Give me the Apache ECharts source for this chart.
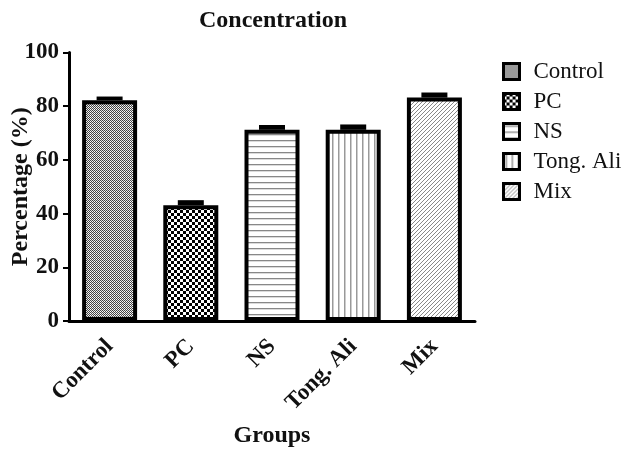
<!DOCTYPE html>
<html>
<head>
<meta charset="utf-8">
<script src="https://cdn.jsdelivr.net/npm/echarts@6/dist/echarts.min.js"></script>
<style>html,body{margin:0;padding:0;background:#fff}#c{width:628px;height:450px}</style>
</head>
<body>
<div id="c"></div>
<script>
var categories = ['Control', 'PC', 'NS', 'Tong. Ali', 'Mix'];
var values = [82.2, 43.1, 71.2, 71.2, 83.2];
var errors = [1.4, 1.9, 1.8, 2.0, 1.9];
var yTicks = [0, 20, 40, 60, 80, 100];

function mk(w, h, draw) {
  var c = document.createElement('canvas');
  c.width = w; c.height = h;
  var g = c.getContext('2d');
  g.fillStyle = '#fff'; g.fillRect(0, 0, w, h);
  draw(g);
  return { image: c, repeat: 'repeat' };
}
var patterns = [
  mk(2, 2, function (g) { g.fillStyle = '#444'; g.fillRect(0, 0, 1, 1); g.fillRect(1, 1, 1, 1); g.fillStyle = '#ddd'; g.fillRect(1,0,1,1); }),
  mk(6, 6, function (g) { g.fillStyle = '#000'; g.fillRect(0, 0, 3, 3); g.fillRect(3, 3, 3, 3); }),
  mk(6, 6, function (g) { g.fillStyle = '#888'; g.fillRect(0, 2, 6, 1.3); }),
  mk(6, 6, function (g) { g.fillStyle = '#999'; g.fillRect(2, 0, 1.5, 6); }),
  mk(4, 4, function (g) { g.strokeStyle = '#888'; g.lineWidth = 1; g.beginPath(); g.moveTo(0, 4); g.lineTo(4, 0); g.moveTo(-1, 1); g.lineTo(1, -1); g.moveTo(3, 5); g.lineTo(5, 3); g.stroke(); })
];

var serif = 'Liberation Serif';
var series = categories.map(function (name, i) {
  return {
    name: name,
    type: 'bar',
    stack: 'all',
    barWidth: 55,
    data: categories.map(function (c, j) { return j === i ? values[i] : '-'; }),
    itemStyle: { color: patterns[i], borderColor: '#000', borderWidth: 4 },
    z: 2
  };
});
series.push({
  type: 'custom',
  name: 'err',
  data: values.map(function (v, i) { return [i, v, errors[i]]; }),
  renderItem: function (params, api) {
    var top = api.coord([api.value(0), api.value(1) + api.value(2)]);
    var base = api.coord([api.value(0), api.value(1)]);
    return { type: 'rect', shape: { x: top[0] - 13, y: top[1], width: 26, height: base[1] - top[1] }, style: { fill: '#000' } };
  },
  z: 3
});

var chart = echarts.init(document.getElementById('c'), null, { renderer: 'canvas' });
chart.setOption({
  animation: false,
  textStyle: { fontFamily: serif },
  title: { text: 'Concentration', left: 194, top: 4, textStyle: { fontFamily: serif, fontWeight: 'bold', fontSize: 24, color: '#111' } },
  legend: {
    orient: 'vertical', left: 497, top: 55,
    data: categories,
    icon: 'rect', itemWidth: 16, itemHeight: 16, itemGap: 7,
    itemStyle: { borderColor: '#000', borderWidth: 3 },
    textStyle: { fontFamily: serif, fontSize: 23, color: '#111', lineHeight: 21, padding: [0, 0, 0, 9] }
  },
  grid: { left: 69, right: 153, top: 52.5, bottom: 129, outerBoundsMode: 'none', containLabel: false },
  xAxis: {
    type: 'category', data: categories,
    name: 'Groups', nameLocation: 'middle', nameGap: 103, nameMoveOverlap: false,
    nameTextStyle: { fontFamily: serif, fontWeight: 'bold', fontSize: 24, color: '#111' },
    axisLine: { lineStyle: { color: '#000', width: 3 } },
    axisTick: { alignWithLabel: true, length: 6, lineStyle: { color: '#000', width: 2 } },
    axisLabel: { rotate: 45, margin: 22, fontFamily: serif, fontWeight: 'bold', fontSize: 23, color: '#111', interval: 0 }
  },
  yAxis: {
    type: 'value', min: yTicks[0], max: yTicks[yTicks.length - 1], interval: 20,
    name: 'Percentage (%)', nameLocation: 'middle', nameGap: 36, nameMoveOverlap: false,
    nameTextStyle: { fontFamily: serif, fontWeight: 'bold', fontSize: 24, color: '#111' },
    axisLine: { show: true, lineStyle: { color: '#000', width: 3 } },
    axisTick: { show: true, length: 6, lineStyle: { color: '#000', width: 2 } },
    axisLabel: { margin: 10, fontFamily: serif, fontWeight: 'bold', fontSize: 23, color: '#111' },
    splitLine: { show: false }
  },
  series: series
});
</script>
</body>
</html>
